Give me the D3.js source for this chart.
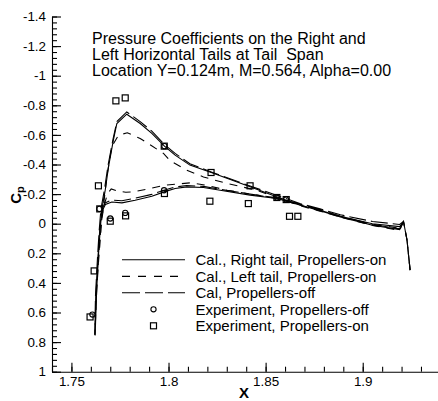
<!DOCTYPE html>
<html><head><meta charset="utf-8">
<script src="https://cdn.jsdelivr.net/npm/d3@7"></script>
<style>
body{margin:0;background:#fff}
svg{display:block}
text{font-family:"Liberation Sans",Arial,Helvetica,sans-serif;fill:#000}
</style>
</head><body>
<svg id="chart" width="438" height="401"></svg>
<script>
// ---------- data ----------
const xTickValues = [1.75, 1.8, 1.85, 1.9];
const yTickValues = [-1.4, -1.2, -1, -0.8, -0.6, -0.4, -0.2, 0, 0.2, 0.4, 0.6, 0.8, 1];

const titleLines = [
  "Pressure Coefficients on the Right and",
  "Left Horizontal Tails at Tail  Span",
  "Location Y=0.124m, M=0.564, Alpha=0.00"
];

const legendLabels = [
  "Cal., Right tail, Propellers-on",
  "Cal., Left tail, Propellers-on",
  "Cal, Propellers-off",
  "Experiment, Propellers-off",
  "Experiment, Propellers-on"
];

// Cal., Right tail, Propellers-on (solid): TE -> upper -> LE -> lower -> TE
const rightOnX = [1.9244, 1.9228, 1.921, 1.919, 1.905, 1.8885, 1.878, 1.868, 1.856, 1.842, 1.822, 1.811, 1.8034, 1.7979, 1.7914, 1.7854, 1.7785, 1.7734, 1.7716, 1.7691, 1.7674, 1.7657, 1.7648, 1.7639, 1.7626, 1.7622,
  1.7630, 1.7640, 1.7650, 1.7660, 1.7675, 1.7708, 1.776, 1.7828, 1.7914, 1.7977, 1.8034, 1.8094, 1.818, 1.8266, 1.842, 1.8558, 1.868, 1.878, 1.8885, 1.905, 1.919, 1.921];
const rightOnCp = [0.314, 0.11, -0.015, 0.02, 0.0, -0.05, -0.09, -0.125, -0.181, -0.249, -0.346, -0.396, -0.463, -0.524, -0.61, -0.677, -0.74, -0.677, -0.565, -0.384, -0.226, -0.10, 0.044, 0.213, 0.483, 0.755,
  0.45, 0.2, 0.0, -0.09, -0.13, -0.147, -0.141, -0.159, -0.186, -0.215, -0.238, -0.249, -0.245, -0.226, -0.193, -0.17, -0.125, -0.088, -0.045, 0.01, 0.04, -0.015];

// Cal., Left tail, Propellers-on (short dash)
const leftOnX = [1.9244, 1.9228, 1.921, 1.919, 1.905, 1.8885, 1.878, 1.868, 1.856, 1.8455, 1.83, 1.818, 1.8094, 1.8008, 1.7974, 1.7854, 1.7788, 1.7742, 1.7708, 1.7685, 1.7672, 1.7655, 1.7640, 1.7628, 1.7621,
  1.7630, 1.7642, 1.7655, 1.7668, 1.7685, 1.7705, 1.774, 1.778, 1.7819, 1.7905, 1.7983, 1.8111, 1.8197, 1.83, 1.8455, 1.856, 1.868, 1.878, 1.8885, 1.905, 1.919, 1.921];
const leftOnCp = [0.314, 0.11, -0.015, 0.03, 0.005, -0.045, -0.085, -0.12, -0.175, -0.226, -0.272, -0.316, -0.362, -0.425, -0.475, -0.576, -0.614, -0.598, -0.52, -0.34, -0.2, 0.0, 0.25, 0.5, 0.75,
  0.45, 0.18, -0.02, -0.12, -0.2, -0.235, -0.22, -0.213, -0.215, -0.238, -0.26, -0.276, -0.26, -0.226, -0.193, -0.17, -0.125, -0.085, -0.045, 0.012, 0.045, -0.015];

// Cal, Propellers-off (long dash)
const offX = [1.9244, 1.9228, 1.921, 1.919, 1.905, 1.8885, 1.878, 1.868, 1.856, 1.842, 1.822, 1.811, 1.8034, 1.7979, 1.7914, 1.7854, 1.7785, 1.7734, 1.7714, 1.7688, 1.767, 1.7652, 1.7643, 1.7635, 1.7624, 1.7620,
  1.7628, 1.7638, 1.7648, 1.7658, 1.7673, 1.7708, 1.776, 1.7828, 1.7914, 1.7977, 1.8034, 1.8094, 1.818, 1.8266, 1.842, 1.8558, 1.868, 1.878, 1.8885, 1.905, 1.919, 1.921];
const offCp = [0.314, 0.11, -0.015, 0.005, -0.015, -0.06, -0.1, -0.135, -0.19, -0.255, -0.35, -0.405, -0.475, -0.535, -0.625, -0.69, -0.755, -0.69, -0.57, -0.39, -0.23, -0.10, 0.044, 0.213, 0.483, 0.75,
  0.45, 0.2, 0.0, -0.1, -0.14, -0.16, -0.155, -0.172, -0.198, -0.226, -0.248, -0.258, -0.252, -0.232, -0.2, -0.175, -0.13, -0.092, -0.05, 0.005, 0.035, -0.015];

// Experiment, Propellers-off (circles)
const expOffX = [1.7608, 1.7644, 1.7700, 1.7777, 1.7977, 1.7979, 1.8558, 1.8606];
const expOffCp = [0.614, -0.10, -0.035, -0.073, -0.226, -0.524, -0.177, -0.163];

// Experiment, Propellers-on (squares)
const expOnX = [1.7596, 1.7617, 1.7639, 1.7646, 1.7700, 1.7729, 1.7777, 1.7779, 1.7978, 1.7979, 1.8213, 1.8219, 1.8411, 1.842, 1.8558, 1.8606, 1.8623, 1.8666];
const expOnCp = [0.63, 0.319, -0.256, -0.10, -0.017, -0.83, -0.85, -0.053, -0.524, -0.204, -0.152, -0.346, -0.136, -0.256, -0.177, -0.163, -0.05, -0.05];

// ---------- drawing ----------
const svg = d3.select("#chart");
const x = d3.scaleLinear().domain([1.74, 1.94]).range([52, 440.4]);
const y = d3.scaleLinear().domain([-1.4, 1]).range([16.5, 371.7]);

const zip = (xs, ys) => xs.map((v, i) => [v, ys[i]]);

// minor ticks
const yMinor = d3.range(0, 61).map(i => +(-1.4 + i * 0.04).toFixed(2));
const xMinor = d3.range(0, 21).map(i => +(1.74 + i * 0.01).toFixed(2));

svg.append("g").attr("transform", "translate(52,0)")
  .call(d3.axisLeft(y).tickValues(yMinor).tickSizeInner(-5).tickSizeOuter(0).tickFormat(""))
  .call(g => g.select(".domain").remove());
svg.append("g").attr("transform", "translate(0,371.7)")
  .call(d3.axisBottom(x).tickValues(xMinor).tickSizeInner(-5).tickSizeOuter(0).tickFormat(""))
  .call(g => g.select(".domain").remove());

svg.append("g").attr("transform", "translate(52,0)")
  .call(d3.axisLeft(y).tickValues(yTickValues).tickSizeInner(-9).tickSizeOuter(0).tickPadding(6).tickFormat(d => String(d)));
svg.append("g").attr("transform", "translate(0,371.7)")
  .call(d3.axisBottom(x).tickValues(xTickValues).tickSizeInner(-9).tickSizeOuter(0).tickPadding(5).tickFormat(d => String(d)));

svg.selectAll(".tick line, .domain").attr("stroke", "#000").attr("stroke-width", 1.1);
svg.selectAll(".tick text").attr("font-size", 13.4).attr("font-family", "'Liberation Sans',Arial,sans-serif").attr("fill", "#000");

// axis titles
svg.append("text").attr("x", 244).attr("y", 398).attr("text-anchor", "middle")
  .attr("font-size", 15).attr("font-weight", "bold").text("X");
const cp = svg.append("text").attr("transform", "translate(21,195) rotate(-90)")
  .attr("text-anchor", "middle").attr("font-size", 15).attr("font-weight", "bold");
cp.append("tspan").text("C");
cp.append("tspan").attr("font-size", 11).attr("dy", 3).text("p");

// title
svg.append("g").selectAll("text").data(titleLines).join("text")
  .attr("x", 92).attr("y", (d, i) => 44.3 + i * 15.8)
  .attr("font-size", 16).attr("xml:space", "preserve").style("white-space", "pre").text(d => d);

// lines
const line = d3.line().x(d => x(d[0])).y(d => y(d[1]));
const series = [
  { pts: zip(rightOnX, rightOnCp), dash: null },
  { pts: zip(leftOnX, leftOnCp), dash: "8,7" },
  { pts: zip(offX, offCp), dash: "17,5" }
];
svg.append("g").selectAll("path").data(series).join("path")
  .attr("d", d => line(d.pts)).attr("fill", "none").attr("stroke", "#000")
  .attr("stroke-width", 1.1).attr("stroke-dasharray", d => d.dash);

// experiment markers
svg.append("g").selectAll("circle").data(zip(expOffX, expOffCp)).join("circle")
  .attr("cx", d => x(d[0])).attr("cy", d => y(d[1])).attr("r", 2.6)
  .attr("fill", "none").attr("stroke", "#000").attr("stroke-width", 1.1);
svg.append("g").selectAll("rect").data(zip(expOnX, expOnCp)).join("rect")
  .attr("x", d => x(d[0]) - 3).attr("y", d => y(d[1]) - 3).attr("width", 6).attr("height", 6)
  .attr("fill", "none").attr("stroke", "#000").attr("stroke-width", 1.2);

// legend
const legRows = [259.8, 276.4, 292.8, 309.3, 325.8];
const lg = svg.append("g");
[null, "8,8", "18,5"].forEach((dash, i) => {
  lg.append("line").attr("x1", 122).attr("x2", 185).attr("y1", legRows[i]).attr("y2", legRows[i])
    .attr("stroke", "#000").attr("stroke-width", 1.1).attr("stroke-dasharray", dash);
});
lg.append("circle").attr("cx", 153.5).attr("cy", legRows[3]).attr("r", 2.6)
  .attr("fill", "none").attr("stroke", "#000").attr("stroke-width", 1.1);
lg.append("rect").attr("x", 150.5).attr("y", legRows[4] - 3).attr("width", 6).attr("height", 6)
  .attr("fill", "none").attr("stroke", "#000").attr("stroke-width", 1.2);
lg.selectAll("text").data(legendLabels).join("text")
  .attr("x", 195.5).attr("y", (d, i) => legRows[i]).attr("dy", "0.36em")
  .attr("font-size", 15).text(d => d);
</script>
</body></html>
